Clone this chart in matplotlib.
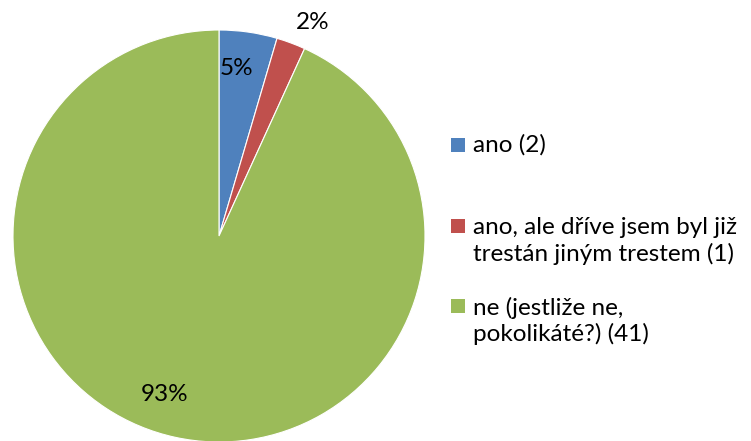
import matplotlib.pyplot as plt
from matplotlib.patches import Rectangle
import numpy as np

labels = ['ano (2)', 'ano, ale dříve jsem byl již\ntrestán jiným trestem (1)', 'ne (jestliže ne,\npokolikáté?) (41)']
counts = [2, 1, 41]
colors = ['#4F81BD', '#C0504D', '#9BBB59']

plt.rcParams['font.family'] = ['Lato', 'DejaVu Sans']

fig = plt.figure(figsize=(7.51, 4.41), dpi=100)
# pie centre ~ (219, 236) px, radius ~206 px
r = 206
ax = fig.add_axes([(219 - r) / 751, (441 - 236 - r) / 441, 2 * r / 751, 2 * r / 441])
wedges, texts, autotexts = ax.pie(counts, colors=colors, startangle=90, counterclock=False,
                                  autopct=lambda p: '%d%%' % round(p), pctdistance=0.82,
                                  radius=1, wedgeprops=dict(edgecolor='white', linewidth=0.8),
                                  textprops=dict(fontsize=17.5, color='black'))
ax.set_xlim(-1, 1)
ax.set_ylim(-1, 1)
ax.set_aspect('auto')

# nudge labels like Excel's best-fit placement
dist = [0.82, 1.13, 0.82]
nudge = [(-0.03, 0.0), (0.06, -0.02), (-0.09, 0.03)]
for w, t, d, (nx, ny) in zip(wedges, autotexts, dist, nudge):
    ang = np.deg2rad((w.theta1 + w.theta2) / 2)
    t.set_position((d * np.cos(ang) + nx, d * np.sin(ang) + ny))

# legend drawn by hand to match the spacing of the original
rows = [145, 241, 321]
for lab, col, yc in zip(labels, colors, rows):
    nl = lab.count('\n')
    sq_y = yc - 31 * nl / 2
    fig.patches.append(Rectangle((451 / 751, 1 - (sq_y + 7) / 441), 14 / 751, 14 / 441,
                                 transform=fig.transFigure, facecolor=col, edgecolor='none'))
    fig.text(473 / 751, 1 - yc / 441, lab, fontsize=17.5, va='center', ha='left',
             linespacing=1.25)

fig.savefig('out.png', dpi=100)
